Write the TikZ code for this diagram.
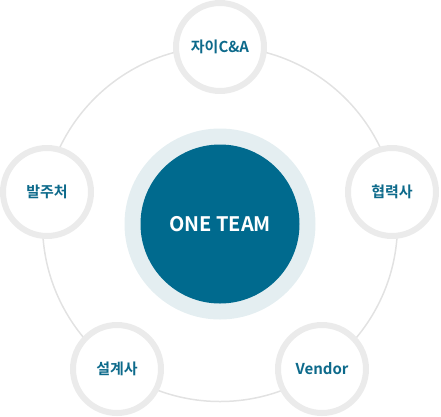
\documentclass[tikz,border=0pt]{standalone}
\usepackage{fontspec}
\setmainfont{Noto Sans CJK KR}[BoldFont={Noto Sans CJK KR Bold}]
\usetikzlibrary{positioning}
\definecolor{teamblue}{HTML}{006A8E}
\definecolor{teamhalo}{HTML}{E4EEF1}
\definecolor{partnerring}{HTML}{EBEBEB}
\definecolor{orbitline}{HTML}{E2E2E2}
\definecolor{partnertext}{HTML}{0D6A8B}

\tikzset{
  partner/.style={circle, draw=partnerring, line width=6pt, fill=white, minimum size=88pt,
    inner sep=0pt, font=\bfseries\fontsize{15}{18}\selectfont, text=partnertext}
}

\begin{document}
\begin{tikzpicture}[x=1pt, y=-1pt]
  \useasboundingbox (0,0) rectangle (441,416);
  % orbit behind everything
  \node[circle, fill=teamhalo, minimum size=191pt, inner sep=0pt] (halo) at (220,224) {};
  \draw[orbitline, line width=1.5pt] (halo.center) circle (177.5);
  \node[circle, fill=teamblue, minimum size=159pt, inner sep=0pt, text=white,
    font=\bfseries\fontsize{20}{24}\selectfont] (team) at (halo.center) {ONE TEAM};
  % partners round the orbit
  \node[partner] (xi) at (220,47) {자이C\&A};
  \node[partner] (subcon) at (392,192) {협력사};
  \node[partner] (vendor) at (322,369) {Vendor};
  \node[partner] (design) at (117,369) {설계사};
  \node[partner] (client) at (47,192) {발주처};
\end{tikzpicture}
\end{document}
